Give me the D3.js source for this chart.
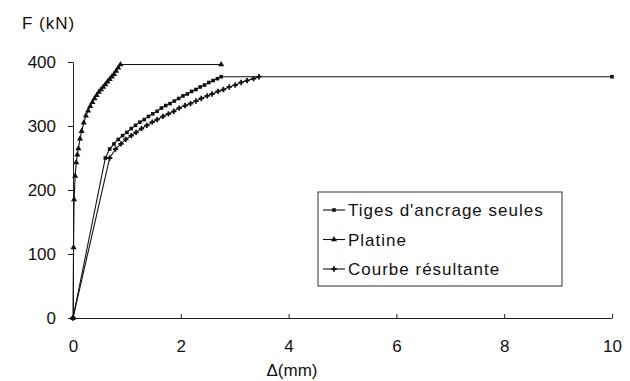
<!DOCTYPE html>
<html>
<head>
<meta charset="utf-8">
<script src="https://cdn.jsdelivr.net/npm/d3@7"></script>
<style>
  body { margin: 0; background: #fff; }
  text { font-family: "Liberation Sans", Arial, sans-serif; fill: #111; }
</style>
</head>
<body>
<svg id="chart"></svg>
<script>
// deplacement (mm) / effort (kN)
const tigesX = [0, 0.60, 0.68, 0.76, 0.84, 0.92, 1.00, 1.08, 1.16, 1.24, 1.32, 1.40, 1.48, 1.56, 1.64, 1.72, 1.80, 1.88, 1.96, 2.04, 2.12, 2.20, 2.28, 2.36, 2.44, 2.52, 2.60, 2.68, 2.75, 10];
const tigesF = [0, 250, 264, 272, 279, 285, 290, 296, 301, 306, 310, 315, 319, 323, 328, 332, 335, 339, 343, 347, 350, 354, 357, 361, 364, 368, 371, 374, 377, 377];

const platineX = [0, 0.01, 0.02, 0.04, 0.06, 0.08, 0.10, 0.13, 0.16, 0.20, 0.24, 0.28, 0.32, 0.36, 0.40, 0.44, 0.48, 0.52, 0.56, 0.60, 0.64, 0.68, 0.72, 0.76, 0.80, 0.84, 0.88, 2.75];
const platineF = [0, 110, 185, 222, 243, 255, 265, 280, 292, 305, 316, 324, 331, 337, 343, 348, 353, 357, 361, 365, 369, 373, 377, 381, 386, 391, 396, 396];

const courbeX = [0, 0.68, 0.79, 0.89, 0.98, 1.08, 1.17, 1.27, 1.37, 1.47, 1.56, 1.67, 1.77, 1.87, 1.97, 2.08, 2.18, 2.28, 2.38, 2.49, 2.58, 2.69, 2.79, 2.90, 3.01, 3.12, 3.23, 3.35, 3.45];
const courbeF = [0, 250, 264, 272, 279, 285, 290, 296, 301, 306, 310, 315, 319, 323, 328, 332, 335, 339, 343, 347, 350, 354, 357, 361, 364, 368, 371, 374, 377];

const xTicks = [0, 2, 4, 6, 8, 10];
const yTicks = [0, 100, 200, 300, 400];

const series = [
  { name: "Tiges d'ancrage seules", x: tigesX, y: tigesF, symbol: d3.symbolSquare, size: 13 },
  { name: "Platine", x: platineX, y: platineF, symbol: d3.symbolTriangle, size: 16 },
  { name: "Courbe résultante", x: courbeX, y: courbeF, symbol: d3.symbolCross, size: 16 }
];

const width = 630, height = 381;
const svg = d3.select("#chart").attr("width", width).attr("height", height);

const xScale = d3.scaleLinear().domain([0, 10]).range([73, 612]);
const yScale = d3.scaleLinear().domain([0, 400]).range([318, 62]);

// axes
const yAxis = svg.append("g")
  .attr("transform", `translate(${xScale(0)},0)`)
  .call(d3.axisLeft(yScale).tickValues(yTicks).tickSizeInner(5).tickSizeOuter(0).tickPadding(12));
yAxis.selectAll("text").attr("font-size", 17).attr("font-family", null);

const xAxis = svg.append("g")
  .attr("transform", `translate(0,${yScale(0)})`)
  .call(d3.axisBottom(xScale).tickValues(xTicks).tickSizeInner(-4).tickSizeOuter(0).tickPadding(22));
xAxis.selectAll("text").attr("font-size", 17).attr("font-family", null);
svg.selectAll(".domain, .tick line").attr("stroke", "#222");

svg.append("text").attr("x", 22).attr("y", 29).attr("font-size", 17)
  .attr("letter-spacing", 1).text("F (kN)");
svg.append("text").attr("x", 292).attr("y", 376).attr("font-size", 17)
  .attr("text-anchor", "middle").text("Δ(mm)");

// courbes
const line = d3.line().x(d => xScale(d[0])).y(d => yScale(d[1]));
const plot = svg.append("g");
series.forEach(s => {
  const pts = s.x.map((v, i) => [v, s.y[i]]);
  plot.append("path").datum(pts).attr("d", line)
    .attr("fill", "none").attr("stroke", "#111").attr("stroke-width", 1.1);
  plot.selectAll(null).data(pts).join("path")
    .attr("transform", d => `translate(${xScale(d[0])},${yScale(d[1])})`)
    .attr("d", d3.symbol().type(s.symbol).size(s.size))
    .attr("fill", "#111");
});

// legende
const legend = svg.append("g").attr("transform", "translate(318,192)");
legend.append("rect").attr("width", 244).attr("height", 94)
  .attr("fill", "#fff").attr("stroke", "#333").attr("stroke-width", 1);
series.forEach((s, i) => {
  const y = 18 + i * 29.5;
  legend.append("line").attr("x1", 5).attr("x2", 27).attr("y1", y).attr("y2", y)
    .attr("stroke", "#111").attr("stroke-width", 1.1);
  legend.append("path").attr("transform", `translate(16,${y})`)
    .attr("d", d3.symbol().type(s.symbol).size(s.size)).attr("fill", "#111");
  legend.append("text").attr("x", 30).attr("y", y + 6).attr("font-size", 17)
    .attr("letter-spacing", 1).text(s.name);
});
</script>
</body>
</html>
